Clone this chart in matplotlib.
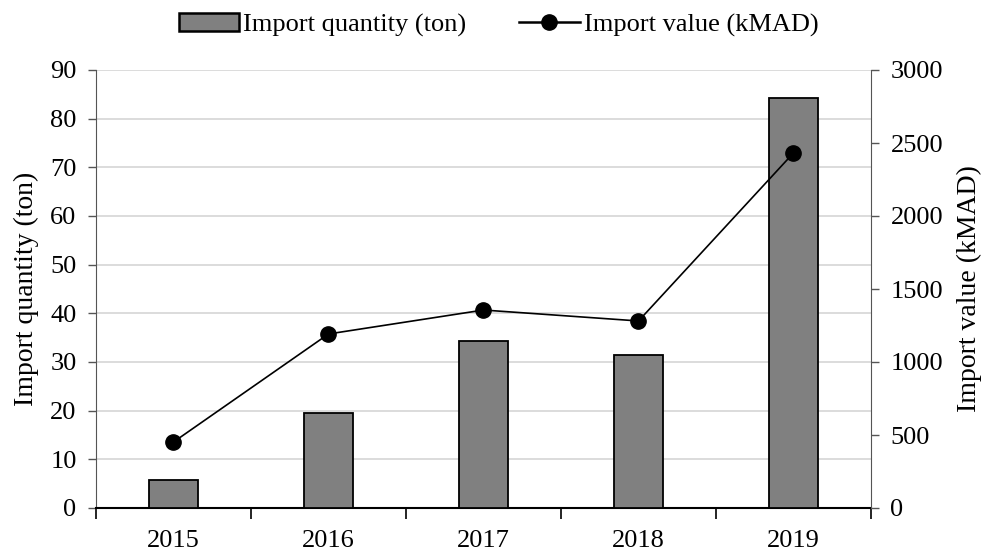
import matplotlib
matplotlib.use("Agg")
import matplotlib.pyplot as plt
import numpy as np

years = ["2015", "2016", "2017", "2018", "2019"]
quantity_ton = [5.75, 19.5, 34.3, 31.4, 84.2]
value_kmad = [452, 1192, 1356, 1281, 2432]

plt.rcParams['font.family'] = ['Liberation Serif', 'DejaVu Serif']
fs = 19

fig = plt.figure(figsize=(9.87, 5.54), dpi=100)
ax = fig.add_axes([96/987, 46/554, 775/987, 438/554])
x = np.arange(len(years))
bars = ax.bar(x, quantity_ton, width=0.31, color="#808080", edgecolor="black",
              linewidth=1.3, zorder=3, label="Import quantity (ton)")
ax.set_xlim(-0.5, len(years) - 0.5)
ax.set_ylim(0, 90)
ax.set_yticks(np.arange(0, 91, 10))
ax.grid(axis='y', color="#d9d9d9", linewidth=1.3, zorder=0)
ax.set_axisbelow(True)
ax.set_xticks(np.arange(-0.5, len(years), 1.0))
ax.set_xticklabels([])
ax.set_xticks(x, minor=True)
ax.set_xticklabels(years, minor=True)
ax.tick_params(axis='x', which='major', direction='out', length=8, width=1.2)
ax.tick_params(axis='x', which='minor', length=0, pad=16, labelsize=fs)
ax.tick_params(axis='y', direction='out', length=6, width=1, labelsize=fs, color="#555555", pad=8)
ax.set_ylabel("Import quantity (ton)", fontsize=fs + 1, labelpad=8)
ax.spines['top'].set_visible(False)
ax.spines['left'].set_color("#555555")
ax.spines['right'].set_visible(False)
ax.spines['bottom'].set_linewidth(1.5)

ax2 = ax.twinx()
line, = ax2.plot(x, value_kmad, color="black", linewidth=1.2, marker='o',
                 markersize=11, zorder=4, label="Import value (kMAD)")
ax2.set_ylim(0, 3000)
ax2.set_yticks(np.arange(0, 3001, 500))
ax2.tick_params(axis='y', direction='out', length=6, width=1, labelsize=fs, color="#555555", pad=8)
ax2.set_ylabel("Import value (kMAD)", fontsize=fs + 1, labelpad=10)
ax2.spines['top'].set_visible(False)
ax2.spines['left'].set_visible(False)
ax2.spines['bottom'].set_visible(False)
ax2.spines['right'].set_color("#555555")

leg = fig.legend(handles=[bars, line], labels=["Import quantity (ton)", "Import value (kMAD)"],
                 loc='upper center', bbox_to_anchor=(0.505, 1.02), ncol=2, frameon=False,
                 fontsize=fs, handlelength=2.3, handleheight=0.7, columnspacing=2.0,
                 handletextpad=0.15)
for h in leg.legend_handles:
    try:
        h.set_linewidth(1.8)
    except Exception:
        pass

fig.savefig("out.png", dpi=100)
